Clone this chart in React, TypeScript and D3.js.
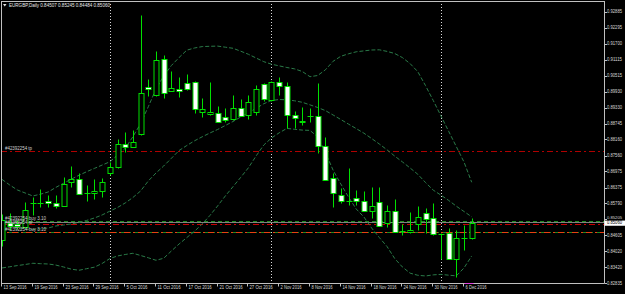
import React from "react";
import * as d3 from "d3";

const dates = [
  "13 Sep 2016","14 Sep 2016","15 Sep 2016","16 Sep 2016","19 Sep 2016","20 Sep 2016","21 Sep 2016","22 Sep 2016","23 Sep 2016","26 Sep 2016","27 Sep 2016","28 Sep 2016","29 Sep 2016","30 Sep 2016",
  "3 Oct 2016","4 Oct 2016","5 Oct 2016","6 Oct 2016","7 Oct 2016","10 Oct 2016","11 Oct 2016","12 Oct 2016","13 Oct 2016","14 Oct 2016","17 Oct 2016","18 Oct 2016","19 Oct 2016","20 Oct 2016","21 Oct 2016","24 Oct 2016","25 Oct 2016","26 Oct 2016","27 Oct 2016","28 Oct 2016","31 Oct 2016",
  "1 Nov 2016","2 Nov 2016","3 Nov 2016","4 Nov 2016","7 Nov 2016","8 Nov 2016","9 Nov 2016","10 Nov 2016","11 Nov 2016","14 Nov 2016","15 Nov 2016","16 Nov 2016","17 Nov 2016","18 Nov 2016","21 Nov 2016","22 Nov 2016","23 Nov 2016","24 Nov 2016","25 Nov 2016","28 Nov 2016","29 Nov 2016","30 Nov 2016",
  "1 Dec 2016","2 Dec 2016","5 Dec 2016","6 Dec 2016","7 Dec 2016"
];

const open = [0.84438,0.85067,0.85030,0.84930,0.85788,0.85788,0.85862,0.85818,0.85696,0.86595,0.86684,0.86158,0.86166,0.86262,
  0.86906,0.87128,0.87979,0.87890,0.88349,0.90110,0.89803,0.91124,0.89962,0.90036,0.90258,0.90295,0.89185,0.89089,0.89126,0.88978,0.88904,0.89333,0.89063,0.89185,0.90210,
  0.89618,0.90273,0.90147,0.89063,0.88793,0.89015,0.89026,0.87927,0.86721,0.86103,0.85881,0.85981,0.85892,0.85522,0.85833,0.85056,0.85511,0.84771,0.84723,0.85019,0.85426,0.85241,
  0.84660,0.84686,0.83735,0.84523,0.84507];
const high = [0.85400,0.85437,0.85178,0.85855,0.86029,0.86314,0.86103,0.86103,0.86780,0.87176,0.86928,0.86473,0.86684,0.86721,
  0.87324,0.88164,0.88434,0.88508,0.92763,0.90395,0.91431,0.91283,0.90691,0.90458,0.90580,0.90321,0.89692,0.90273,0.89396,0.89311,0.89803,0.89644,0.89803,0.90173,0.90247,
  0.90321,0.90480,0.90284,0.89211,0.89370,0.89311,0.90236,0.88249,0.86917,0.86351,0.87091,0.86288,0.86262,0.86410,0.86410,0.85733,0.85944,0.85030,0.85485,0.85696,0.85611,0.85796,
  0.84697,0.84871,0.84808,0.84993,0.85245];
const low = [0.84216,0.84808,0.84845,0.84882,0.85363,0.85648,0.85648,0.85611,0.85677,0.86399,0.86121,0.85892,0.85944,0.86040,
  0.86843,0.87102,0.87705,0.87879,0.88323,0.89777,0.89784,0.89681,0.89951,0.89740,0.90006,0.89148,0.88989,0.89063,0.88804,0.88815,0.88878,0.89026,0.88915,0.89063,0.89581,
  0.89581,0.89803,0.88571,0.88582,0.88693,0.88815,0.87646,0.86639,0.85670,0.85796,0.85733,0.85733,0.85492,0.85252,0.84937,0.84930,0.84734,0.84623,0.84697,0.84808,0.84686,0.84623,
  0.83735,0.83716,0.83080,0.84068,0.84484];
const close = [0.85178,0.84956,0.84956,0.85548,0.85807,0.85800,0.85807,0.85696,0.86499,0.86706,0.86129,0.86170,0.86262,0.86595,
  0.87128,0.87990,0.87890,0.88053,0.89866,0.90025,0.91098,0.89866,0.90051,0.89962,0.90014,0.89274,0.89285,0.89163,0.88815,0.88878,0.89311,0.89037,0.89533,0.90014,0.89655,
  0.90273,0.90147,0.89052,0.88963,0.88852,0.89026,0.87927,0.86658,0.86166,0.85862,0.85870,0.85881,0.85511,0.85696,0.84956,0.85511,0.84745,0.84760,0.84808,0.85300,0.85215,0.84649,
  0.84641,0.83735,0.84523,0.84507,0.85060];

const bbUpper = [0.86680,0.86473,0.86288,0.86177,0.86066,0.86133,0.86214,0.86384,0.86540,0.86688,0.86832,0.86965,0.87087,0.87209,
  0.87331,0.87576,0.87831,0.88260,0.88745,0.89370,0.90025,0.90506,0.90894,0.91190,0.91461,0.91542,0.91594,0.91605,0.91612,0.91572,0.91531,0.91424,0.91309,0.91172,0.91035,
  0.90943,0.90880,0.90820,0.90769,0.90672,0.90480,0.90524,0.90735,0.91050,0.91235,0.91327,0.91401,0.91435,0.91468,0.91475,0.91416,0.91338,0.91187,0.90965,0.90665,0.90151,0.89603,
  0.89033,0.88464,0.87894,0.87324,0.86573];
const bbMiddle = [0.85048,0.84963,0.84882,0.84845,0.84826,0.84852,0.84882,0.84956,0.84993,0.85030,0.85085,0.85163,0.85252,0.85363,
  0.85504,0.85640,0.85807,0.86010,0.86251,0.86621,0.86917,0.87176,0.87461,0.87749,0.87934,0.88108,0.88256,0.88397,0.88526,0.88674,0.88822,0.88989,0.89144,0.89311,0.89481,
  0.89599,0.89636,0.89625,0.89588,0.89533,0.89437,0.89340,0.89226,0.89063,0.88896,0.88726,0.88560,0.88390,0.88193,0.87990,0.87775,0.87542,0.87328,0.87102,0.86869,0.86565,0.86284,
  0.86099,0.85903,0.85689,0.85492,0.85296];
const bbLower = [0.83402,0.83446,0.83491,0.83531,0.83576,0.83561,0.83550,0.83509,0.83439,0.83358,0.83317,0.83376,0.83432,0.83568,
  0.83750,0.83846,0.83901,0.83946,0.83864,0.83779,0.83687,0.83761,0.84031,0.84290,0.84527,0.84760,0.85030,0.85344,0.85696,0.86066,0.86410,0.86754,0.87109,0.87546,0.87953,
  0.88212,0.88404,0.88567,0.88534,0.88504,0.88493,0.88249,0.87675,0.87021,0.86510,0.86029,0.85585,0.85289,0.84882,0.84530,0.84197,0.83753,0.83439,0.83210,0.83132,0.83106,0.83147,
  0.83165,0.83136,0.83110,0.83402,0.83846];

const priceTicks = [0.92885,0.92295,0.91700,0.91115,0.90515,0.89930,0.89330,0.88745,0.88160,0.87560,0.86975,0.86375,0.85790,0.85205,0.84605,0.84020,0.83420,0.82835];
const dateTickIdx = [0,4,8,12,16,20,24,28,32,36,40,44,48,52,56,60];
const separatorIdx = [14,35,57];

const symbolTitle = "EURGBP,Daily  0.84507 0.85245 0.84484 0.85060";
const bidPrice = 0.85060;
const tpLevel = 0.87731;
const orderLevel1 = 0.85122;
const slLevel1 = 0.85019;
const orderLevel2 = 0.84722;
const ticket = "#42392254";

const W = 625, H = 294;
const L = 1, R = 604.5, T = 1, B = 283.5;
const GREEN = "#00e000";
const FONT = "'Liberation Sans', Arial, sans-serif";

export default function App() {
  const x = d3.scaleLinear().domain([0, 61]).range([2, 471.7]);
  const y = d3.scaleLinear().domain([0.82835, 0.92885]).range([283.3, 11.7]);
  const px = (i: number) => Math.round(x(i)) + 0.5;
  const py = (v: number) => Math.round(y(v)) + 0.5;

  const band = d3.line<number>().x((_, i) => x(i)).y((d) => y(d));

  const hline = (v: number) => py(v);
  const bidY = y(bidPrice);

  return (
    <svg width={W} height={H} style={{ position: "absolute", left: 0, top: 0, background: "#000" }}>
      <rect x={0} y={0} width={W} height={H} fill="#000" />
      <defs>
        <clipPath id="plot">
          <rect x={L} y={T} width={R - L} height={B - T} />
        </clipPath>
      </defs>

      <g clipPath="url(#plot)">
        {separatorIdx.map((i) => (
          <line key={"sep" + i} x1={px(i)} x2={px(i)} y1={T} y2={B} stroke="#d8d8d8" strokeWidth={1} strokeDasharray="1,2" />
        ))}

        <line x1={L} x2={R} y1={hline(tpLevel)} y2={hline(tpLevel)} stroke="#b00000" strokeDasharray="6,3,2,3" />
        <line x1={L} x2={R} y1={hline(orderLevel1)} y2={hline(orderLevel1)} stroke="#1f8a1f" strokeDasharray="4,3" />
        <line x1={L} x2={R} y1={hline(bidPrice) - 1} y2={hline(bidPrice) - 1} stroke="#808080" strokeWidth={1} />
        <line x1={L} x2={R} y1={hline(slLevel1)} y2={hline(slLevel1)} stroke="#c80000" strokeDasharray="6,3,2,3" />
        <line x1={L} x2={R} y1={hline(orderLevel2)} y2={hline(orderLevel2)} stroke="#1f8a1f" strokeDasharray="4,3" />
        <line x1={L} x2={R} y1={hline(orderLevel2)} y2={hline(orderLevel2)} stroke="#e84010" strokeDasharray="6,3,2,3" strokeDashoffset={3} />

        {[bbUpper, bbMiddle, bbLower].map((s, k) => (
          <path key={"bb" + k} d={band(s) || ""} fill="none" stroke="#2a7a48" strokeWidth={1} strokeDasharray="4,2" />
        ))}

        {open.map((o, i) => {
          const c = close[i];
          const xc = px(i);
          const yo = py(o), yc = py(c);
          const top = Math.min(yo, yc), bot = Math.max(yo, yc);
          const bull = c >= o;
          return (
            <g key={"c" + i}>
              <line x1={xc} x2={xc} y1={py(high[i])} y2={py(low[i])} stroke={GREEN} strokeWidth={1} />
              {bot - top < 1 ? (
                <line x1={xc - 3} x2={xc + 3} y1={top} y2={top} stroke={GREEN} strokeWidth={1} />
              ) : (
                <rect x={xc - 2.5} y={top} width={5} height={bot - top} fill={bull ? "#000" : "#ffffff"} stroke={GREEN} strokeWidth={1} />
              )}
            </g>
          );
        })}

        <text x={5} y={hline(tpLevel) - 3} fill="#d0d0d0" fontSize={5} fontFamily={FONT} textLength={27} lengthAdjust="spacingAndGlyphs" dominantBaseline="middle">{ticket + " tp"}</text>
        <text x={5} y={hline(orderLevel1) - 3} fill="#d0d0d0" fontSize={5} fontFamily={FONT} textLength={41} lengthAdjust="spacingAndGlyphs" dominantBaseline="middle">{ticket + " buy 3.10"}</text>
        <text x={5} y={hline(slLevel1) - 1.5} fill="#d0d0d0" fontSize={5} fontFamily={FONT} textLength={27} lengthAdjust="spacingAndGlyphs" dominantBaseline="middle">{ticket + " sl"}</text>
        <text x={5} y={hline(orderLevel2) - 2.5} fill="#d0d0d0" fontSize={5} fontFamily={FONT} textLength={41} lengthAdjust="spacingAndGlyphs" dominantBaseline="middle">{ticket + " buy 3.10"}</text>
      </g>

      <line x1={L} x2={R} y1={T + 0.5} y2={T + 0.5} stroke="#c0c0c0" />
      <line x1={L + 0.5} x2={L + 0.5} y1={T} y2={B} stroke="#c0c0c0" />
      <line x1={R} x2={R} y1={T} y2={B} stroke="#c0c0c0" />
      <line x1={L} x2={R} y1={B} y2={B} stroke="#c0c0c0" />
      <line x1={px(60)} x2={px(61) + 1} y1={B} y2={B} stroke="#e040e0" />

      <path d="M3,4 L6.5,4 L4.75,6.5 Z" fill="#e0e0e0" />
      <text x={9} y={5.5} fill="#e8e8e8" fontSize={5.2} fontFamily={FONT} textLength={101} lengthAdjust="spacingAndGlyphs" dominantBaseline="middle">{symbolTitle}</text>

      {priceTicks.map((t) => {
        const ty = y(t);
        const near = Math.abs(ty - bidY) < 6;
        const labelY = near ? (ty < bidY ? bidY - 5.3 : bidY + 5.3) : ty;
        return (
          <g key={"pt" + t}>
            <line x1={R} x2={R + 2.5} y1={py(t)} y2={py(t)} stroke="#c0c0c0" />
            <text x={R + 2.5} y={labelY} fill="#d8d8d8" fontSize={near ? 4.2 : 5} fontFamily={FONT} textLength={15} lengthAdjust="spacingAndGlyphs" dominantBaseline="middle">{t.toFixed(5)}</text>
          </g>
        );
      })}
      <rect x={R} y={bidY - 2.6} width={W - R} height={5.2} fill="#ffffff" />
      <text x={R + 2.5} y={bidY} fill="#000" fontSize={4.6} fontFamily={FONT} textLength={15} lengthAdjust="spacingAndGlyphs" dominantBaseline="middle">{bidPrice.toFixed(5)}</text>

      {dateTickIdx.map((i) => {
        const label = dates[i];
        return (
          <g key={"dt" + i}>
            <line x1={px(i) - 1} x2={px(i) - 1} y1={B} y2={B + 3} stroke="#c0c0c0" />
            <text x={px(i) + 1} y={288} fill="#d8d8d8" fontSize={5} fontFamily={FONT} textLength={label.length * 2.1} lengthAdjust="spacingAndGlyphs" dominantBaseline="middle">{label}</text>
          </g>
        );
      })}
    </svg>
  );
}
